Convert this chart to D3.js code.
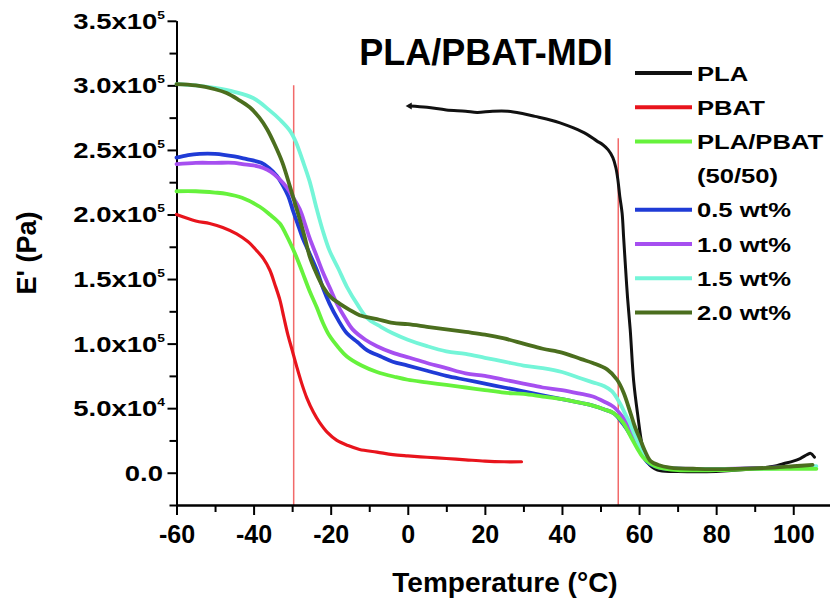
<!DOCTYPE html>
<html><head><meta charset="utf-8">
<script src="https://cdn.jsdelivr.net/npm/d3@7"></script>
<style>
body{margin:0;background:#fff;}
svg{display:block;}
text{font-family:"Liberation Sans",Arial,sans-serif;font-weight:bold;fill:#000;}
</style>
</head><body>
<svg id="chart" width="830" height="600"></svg>
<script>
// E' values in units of 1e5 Pa, temperature in °C
const pla = [[0.5,2.84],[5,2.83],[10,2.81],[15,2.80],[18,2.79],[22,2.80],[26,2.80],[30,2.78],[33,2.76],[36,2.74],[39.5,2.71],[43,2.67],[46.5,2.62],[49,2.57],[50.6,2.54],[52,2.50],[53.2,2.44],[54,2.36],[54.5,2.27],[55,2.14],[55.6,2.01],[56,1.82],[56.4,1.63],[57,1.36],[57.7,1.11],[58.6,0.71],[59.6,0.46],[60.9,0.20],[62.2,0.08],[64.8,0.02],[70,0.01],[80,0.01],[90,0.03],[95,0.05],[97.4,0.07],[100,0.09],[101.8,0.11],[103.6,0.14],[104.5,0.15],[105.5,0.12]];
const pbat = [[-60,2.00],[-55,1.95],[-51.4,1.93],[-48,1.90],[-44.4,1.85],[-41.5,1.79],[-39.2,1.72],[-37.5,1.66],[-35.8,1.57],[-34.5,1.46],[-33.2,1.34],[-32.2,1.21],[-31.2,1.08],[-30,0.95],[-28.8,0.82],[-27.5,0.69],[-26.2,0.58],[-24.5,0.47],[-22.9,0.39],[-20.8,0.31],[-18.4,0.25],[-15.5,0.21],[-12.5,0.18],[-8,0.16],[-3.9,0.14],[0,0.13],[5,0.12],[10,0.11],[15,0.10],[20,0.09],[25,0.085],[29.5,0.085]];
const blend = [[-60,2.18],[-55,2.18],[-50,2.17],[-47,2.16],[-43,2.13],[-38.4,2.06],[-35.8,2.00],[-33.2,1.93],[-31.5,1.84],[-29.9,1.74],[-28.6,1.65],[-27.3,1.55],[-25.5,1.41],[-23.6,1.28],[-22,1.16],[-20.3,1.06],[-18,0.97],[-15.8,0.90],[-12,0.83],[-8,0.78],[-3,0.74],[0,0.72],[4.9,0.70],[10,0.68],[15,0.66],[20,0.64],[25,0.62],[30,0.61],[35,0.59],[40,0.57],[45,0.54],[48,0.52],[51,0.49],[53.5,0.46],[55.8,0.39],[58,0.27],[59.5,0.19],[61,0.12],[63,0.07],[65,0.04],[70,0.02],[80,0.02],[90,0.03],[100,0.03],[106,0.03]];
const mdi05 = [[-60,2.44],[-57,2.46],[-54,2.47],[-50,2.47],[-45,2.45],[-42,2.43],[-38,2.40],[-36,2.36],[-34,2.30],[-32.5,2.23],[-31,2.14],[-29.9,2.04],[-28.6,1.93],[-27.3,1.82],[-25.5,1.70],[-23.6,1.57],[-22,1.43],[-20.3,1.31],[-18,1.18],[-15.8,1.08],[-13,1.01],[-10.6,0.95],[-7,0.90],[-3.9,0.86],[0,0.83],[5,0.79],[10,0.75],[15,0.72],[20,0.69],[25,0.66],[30,0.63],[35,0.60],[40,0.57],[45,0.54],[48,0.52],[51,0.49],[53.4,0.46],[55.8,0.38],[57.8,0.29],[59,0.23],[60.4,0.16],[62.2,0.08],[64,0.05],[67,0.03],[75,0.03],[85,0.03],[95,0.04],[105,0.05]];
const mdi10 = [[-60,2.39],[-55,2.40],[-50,2.40],[-45,2.40],[-42.9,2.39],[-40,2.38],[-37.5,2.36],[-35.5,2.33],[-33.5,2.28],[-31.4,2.21],[-29.7,2.13],[-28,2.04],[-26.7,1.93],[-25.5,1.82],[-23.8,1.69],[-22,1.55],[-20.2,1.43],[-18.4,1.31],[-16.3,1.20],[-14.3,1.11],[-11,1.03],[-8,0.98],[-4,0.93],[0.5,0.89],[5,0.85],[10,0.81],[15,0.77],[20,0.75],[25,0.72],[30,0.69],[35,0.66],[40,0.64],[45,0.61],[48,0.59],[51,0.55],[53.4,0.51],[55.8,0.43],[57,0.38],[58.4,0.29],[59.6,0.22],[61,0.15],[62.5,0.09],[64,0.06],[67,0.04],[80,0.03],[95,0.04],[105,0.05]];
const mdi15 = [[-60,3.01],[-55,3.00],[-50,2.98],[-45,2.95],[-40,2.90],[-36,2.81],[-33,2.73],[-30.6,2.65],[-29,2.56],[-27.3,2.42],[-25.5,2.26],[-23.6,2.04],[-22,1.87],[-20.3,1.72],[-18,1.58],[-15.8,1.44],[-13,1.30],[-10.6,1.20],[-7,1.13],[-3.9,1.08],[0,1.03],[5,0.98],[10,0.94],[15,0.92],[20,0.89],[25,0.86],[30,0.83],[35,0.81],[40,0.78],[45,0.73],[48,0.70],[51,0.67],[53,0.63],[55,0.54],[56.5,0.45],[57.7,0.38],[58.5,0.32],[59.5,0.25],[61,0.14],[62.5,0.09],[64,0.06],[67,0.04],[72,0.03],[80,0.03],[90,0.03],[100,0.04],[106,0.05]];
const mdi20 = [[-60,3.01],[-55,3.00],[-50,2.97],[-47,2.94],[-44,2.89],[-41,2.83],[-38.5,2.75],[-36.5,2.66],[-34.5,2.54],[-32.5,2.40],[-30.6,2.22],[-29.3,2.09],[-28,1.96],[-26.7,1.82],[-25.5,1.68],[-23.8,1.55],[-22,1.44],[-20,1.36],[-17.7,1.31],[-15,1.26],[-12.5,1.22],[-8,1.19],[-3.9,1.16],[0,1.15],[5,1.13],[10,1.11],[15,1.09],[20,1.07],[25,1.04],[30,1.00],[35,0.96],[40,0.93],[45,0.88],[48,0.85],[51.7,0.80],[54.3,0.72],[56,0.62],[57.8,0.46],[59,0.35],[60.4,0.25],[61.5,0.17],[63,0.09],[65,0.06],[68,0.04],[75,0.03],[85,0.03],[95,0.04],[100,0.05],[105,0.06]];

const seriesNames = ["PLA","PBAT","PLA/PBAT","0.5 wt%","1.0 wt%","1.5 wt%","2.0 wt%"];
const seriesColors = ["#111111","#e8141c","#66f23c","#1f3bd6","#a64ff0","#74f5d8","#4b6e1e"];
const seriesData = [pla, pbat, blend, mdi05, mdi10, mdi15, mdi20];
const drawOrder = [1, 0, 3, 4, 5, 2, 6];

const markerTemps = [-29.6, 54.6];
const markerTops = [3.0, 2.59];

const xMajorTicks = [-60,-40,-20,0,20,40,60,80,100];
const xMinorTicks = [-50,-30,-10,10,30,50,70,90,110];
const yMajorTicks = [0,0.5,1.0,1.5,2.0,2.5,3.0,3.5];
const yMinorTicks = [-0.25,0.25,0.75,1.25,1.75,2.25,2.75,3.25];
const yTickMantissa = ["0.0","5.0x10","1.0x10","1.5x10","2.0x10","2.5x10","3.0x10","3.5x10"];
const yTickExponent = ["","4","5","5","5","5","5","5"];

const title = "PLA/PBAT-MDI";
const xTitle = "Temperature (°C)";
const yTitle = "E' (Pa)";

const svg = d3.select("#chart");
const x = d3.scaleLinear().domain([-60, 110]).range([176.5, 831.8]);
const y = d3.scaleLinear().domain([-0.25, 3.5]).range([505, 20.8]);

// red reference lines
svg.append("g").selectAll("line").data(markerTemps).join("line")
  .attr("x1", d => x(d)).attr("x2", d => x(d))
  .attr("y1", (d,i) => y(markerTops[i])).attr("y2", y(-0.25))
  .attr("stroke", "#f26a6a").attr("stroke-width", 1.5);

// axes
const axisStyle = g => {
  g.selectAll("path.domain").attr("stroke","#000").attr("stroke-width",2);
  g.selectAll(".tick line").attr("stroke","#000").attr("stroke-width",2);
};
svg.append("g").attr("transform",`translate(0,${y(-0.25)})`)
  .call(d3.axisBottom(x).tickValues(xMinorTicks).tickSize(7).tickSizeOuter(0).tickFormat(""))
  .call(axisStyle);
const xAx = svg.append("g").attr("transform",`translate(0,${y(-0.25)})`)
  .call(d3.axisBottom(x).tickValues(xMajorTicks).tickSize(10).tickSizeOuter(0).tickFormat(d => String(d)))
  .call(axisStyle);
xAx.selectAll(".tick text").attr("font-size",25).attr("font-family","Liberation Sans, Arial, sans-serif")
  .attr("font-weight","bold").attr("fill","#000").attr("dy",null).attr("y",38);

svg.append("g").attr("transform",`translate(${x(-60)},0)`)
  .call(d3.axisLeft(y).tickValues(yMinorTicks).tickSize(7).tickSizeOuter(0).tickFormat(""))
  .call(axisStyle);
svg.append("g").attr("transform",`translate(${x(-60)},0)`)
  .call(d3.axisLeft(y).tickValues(yMajorTicks).tickSize(9).tickSizeOuter(0).tickFormat(""))
  .call(axisStyle);

// y tick labels
const yl = svg.append("g").selectAll("g").data(yMajorTicks).join("g")
  .attr("transform",(d,i) => `translate(${yTickExponent[i] ? 165 : 163},${y(d)+8}) scale(1.25,1)`);
yl.append("text").attr("text-anchor","end").attr("font-size",22)
  .each(function(d,i){
    const t = d3.select(this);
    t.append("tspan").text(yTickMantissa[i]);
    if (yTickExponent[i]) t.append("tspan").attr("font-size",11).attr("dy",-10).text(yTickExponent[i]);
  });

// curves
const line = d3.line().x(d => x(d[0])).y(d => y(d[1])).curve(d3.curveCatmullRom.alpha(0.5));
svg.append("g").selectAll("path").data(drawOrder).join("path")
  .attr("d", i => line(seriesData[i]))
  .attr("fill","none")
  .attr("stroke", i => seriesColors[i])
  .attr("stroke-width", i => i === 0 ? 3 : (i === 1 ? 3.2 : 3.8))
  .attr("stroke-linejoin","round").attr("stroke-linecap","round");

// PLA start marker
svg.append("path").attr("d", d3.symbol(d3.symbolTriangle, 22)())
  .attr("transform", `translate(${x(pla[0][0])},${y(pla[0][1])}) rotate(-90)`)
  .attr("fill","#111");

// legend
const legendRows = [
  {label:"PLA", s:0}, {label:"PBAT", s:1}, {label:"PLA/PBAT", s:2}, {label:"(50/50)", s:-1},
  {label:"0.5 wt%", s:3}, {label:"1.0 wt%", s:4}, {label:"1.5 wt%", s:5}, {label:"2.0 wt%", s:6}
];
const lg = svg.append("g").selectAll("g").data(legendRows).join("g")
  .attr("transform",(d,i) => `translate(0,${73 + i*34.2})`);
lg.filter(d => d.s >= 0).append("line").attr("x1",635).attr("x2",692).attr("y1",0).attr("y2",0)
  .attr("stroke", d => seriesColors[d.s]).attr("stroke-width",4);
lg.append("text").attr("transform","translate(697,7.5) scale(1.22,1)").attr("font-size",21).text(d => d.label);

// titles
svg.append("text").attr("x",486).attr("y",65).attr("text-anchor","middle").attr("font-size",36).text(title);
svg.append("text").attr("x",505).attr("y",592).attr("text-anchor","middle").attr("font-size",28).text(xTitle);
svg.append("text").attr("transform","translate(36,253) rotate(-90)").attr("text-anchor","middle").attr("font-size",27).text(yTitle);
</script>
</body></html>
